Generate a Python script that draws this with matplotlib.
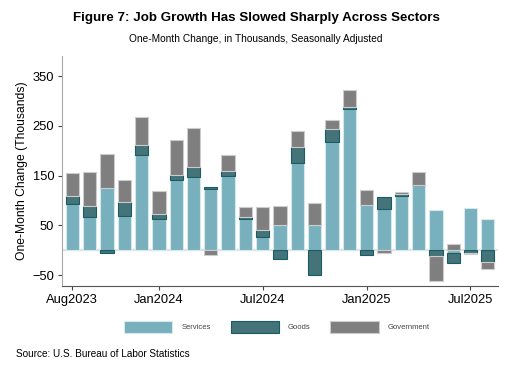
import matplotlib.pyplot as plt
from matplotlib.patches import Patch
import numpy as np

plt.rcParams['font.family'] = ['Liberation Sans', 'DejaVu Sans']

# monthly change in payrolls, thousands
months = ['Aug2023', 'Sep2023', 'Oct2023', 'Nov2023', 'Dec2023',
          'Jan2024', 'Feb2024', 'Mar2024', 'Apr2024', 'May2024', 'Jun2024',
          'Jul2024', 'Aug2024', 'Sep2024', 'Oct2024', 'Nov2024', 'Dec2024',
          'Jan2025', 'Feb2025', 'Mar2025', 'Apr2025', 'May2025', 'Jun2025',
          'Jul2025', 'Aug2025']
services = [92, 66, 125, 69, 191, 62, 141, 147, 124, 150, 62, 27, 50,
            176, 50, 217, 283, 90, 83, 108, 131, 81, -5, 85, 62]
goods = [16, 22, -6, 27, 21, 10, 10, 21, 4, 10, 4, 13, -17,
         32, -50, 27, 4, -10, 23, 5, 1, -12, -21, -6, -24]
government = [48, 70, 69, 45, 56, 47, 71, 77, -9, 32, 20, 47, 39,
              32, 44, 18, 36, 31, -5, 5, 26, -50, 13, -1, -14]
tick_labels = ['Aug2023', 'Jan2024', 'Jul2024', 'Jan2025', 'Jul2025']

series = [('Services', services, '#78b0bd', '#d5e8ec'),
          ('Goods', goods, '#44747a', '#1b5b62'),
          ('Government', government, '#7f7f7f', '#cccccc')]

fig = plt.figure(figsize=(5.12, 3.72), dpi=100)
ax = fig.add_axes([0.121, 0.231, 0.852, 0.618])

x = np.arange(len(months))
pos = np.zeros(len(months))
neg = np.zeros(len(months))
ax.axhline(0, color='#e2e2e2', lw=1.6, zorder=1)
for name, vals, col, edge in series:
    v = np.array(vals, dtype=float)
    base = np.where(v >= 0, pos, neg)
    ax.bar(x, v, 0.77, bottom=base, color=col, edgecolor=edge,
           linewidth=0.8, zorder=2)
    pos = pos + np.clip(v, 0, None)
    neg = neg + np.clip(v, None, 0)

ax.set_xlim(-0.6, len(months) - 0.4)
ax.set_ylim(-72, 390)
ax.set_yticks([-50, 50, 150, 250, 350])
ax.set_xticks([months.index(m) for m in tick_labels])
ax.set_xticklabels(tick_labels)
ax.tick_params(axis='both', labelsize=9.3, colors='#444444',
               labelcolor='black', length=3, width=0.8, pad=2.5)
ax.set_ylabel('One-Month Change (Thousands)', fontsize=8.7, labelpad=3)
for s in ['top', 'right']:
    ax.spines[s].set_visible(False)
ax.spines['left'].set_color('#a8a8a8')
ax.spines['bottom'].set_color('#555555')

fig.text(0.5, 0.952, 'Figure 7: Job Growth Has Slowed Sharply Across Sectors',
         ha='center', va='center', fontsize=9.6, fontweight='bold')
fig.text(0.5, 0.895, 'One-Month Change, in Thousands, Seasonally Adjusted',
         ha='center', va='center', fontsize=7.3)
fig.text(0.031, 0.048, 'Source: U.S. Bureau of Labor Statistics',
         ha='left', va='center', fontsize=7.2)

handles = [Patch(facecolor=c, edgecolor=e, linewidth=0.8, label=n)
           for n, _, c, e in series]
leg = fig.legend(handles=handles, loc='center', bbox_to_anchor=(0.541, 0.121),
                 ncol=3, frameon=False, fontsize=5.5, handlelength=6.3,
                 handleheight=2.0, columnspacing=2.6, handletextpad=1.2)
for t in leg.get_texts():
    t.set_color('#444444')

fig.savefig('out.png', dpi=100)
